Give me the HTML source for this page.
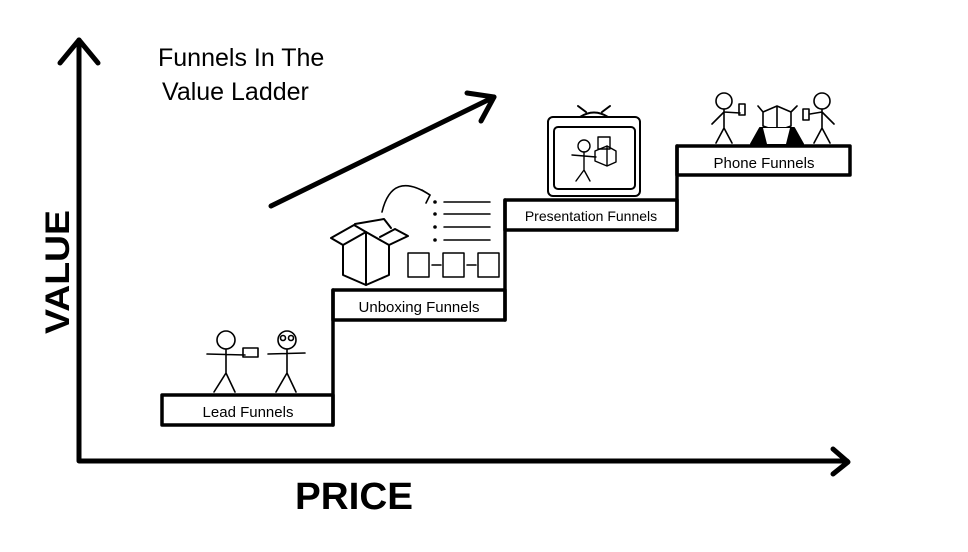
<!DOCTYPE html>
<html><head><meta charset="utf-8"><style>
html,body{margin:0;padding:0;background:#fff;}
svg{display:block;}
text{font-family:"Comic Sans MS","Liberation Sans",sans-serif;fill:#000;}
</style></head><body>
<svg width="968" height="552" viewBox="0 0 968 552" xmlns="http://www.w3.org/2000/svg">
<g stroke="#000" fill="none" stroke-linecap="round" stroke-linejoin="round">
<!-- axes -->
<path d="M79 40 L79 461 L847 461" stroke-width="5"/>
<path d="M60 63 L79 40 L98 63" stroke-width="5"/>
<path d="M833 449 L848 462 L833 474" stroke-width="5"/>
<!-- big arrow -->
<path d="M271 206 L494 97" stroke-width="5"/>
<path d="M467 93 L494 97 L481 121" stroke-width="5"/>
<!-- steps -->
<rect x="162" y="395" width="171" height="30" stroke-width="3.5"/>
<path d="M333 425 L333 290" stroke-width="3.5"/>
<rect x="333" y="290" width="172" height="30" stroke-width="3.5"/>
<path d="M505 320 L505 200" stroke-width="3.5"/>
<rect x="505" y="200" width="172" height="30" stroke-width="3.5"/>
<path d="M677 230 L677 146" stroke-width="3.5"/>
<rect x="677" y="146" width="173" height="29" stroke-width="3.5"/>
<!-- lead funnels people -->
<g stroke-width="1.6">
<circle cx="226" cy="340" r="9"/>
<path d="M226 349 L226 373 M207 354 L245 355 M226 373 L214 392 M226 373 L235 392"/>
<rect x="243" y="348" width="15" height="9"/>
<circle cx="287" cy="340" r="9"/>
<path d="M287 349 L287 373 M268 354 L305 353 M287 373 L276 392 M287 373 L296 392"/>
<circle cx="283" cy="338" r="2.5"/><circle cx="291" cy="338" r="2.5"/>
</g>
<!-- unboxing box -->
<g stroke-width="2">
<path d="M343 245 L366 232 L389 245 L389 275 L366 285 L343 275 Z"/>
<path d="M366 232 L366 285 M343 245 L331 238 L354 225 L366 232 M389 245 L408 236 L395 229 L380 237"/>
<path d="M355 224 L384 219 L391 228"/>
<path d="M382 212 Q392 170 430 195" stroke-width="1.6"/>
<path d="M422 190 L430 195 L426 203" stroke-width="1.6"/>
</g>
<g stroke-width="1.5">
<path d="M444 202 L490 202 M444 214 L490 214 M444 227 L490 227 M444 240 L490 240"/>
<rect x="408" y="253" width="21" height="24"/>
<rect x="443" y="253" width="21" height="24"/>
<rect x="478" y="253" width="21" height="24"/>
<path d="M432 265 L441 265 M467 265 L476 265"/>
</g>
<g fill="#000" stroke="none"><circle cx="435" cy="202" r="1.8"/><circle cx="435" cy="214" r="1.8"/><circle cx="435" cy="227" r="1.8"/><circle cx="435" cy="240" r="1.8"/></g>
<!-- TV -->
<g stroke-width="2">
<rect x="548" y="117" width="92" height="79" rx="5"/>
<rect x="554" y="127" width="81" height="62" rx="4"/>
<path d="M580 117 Q594 108 608 117 M586 112 L578 106 M602 112 L610 106"/>
</g>
<g stroke-width="1.4">
<circle cx="584" cy="146" r="6"/>
<path d="M584 152 L584 170 M572 155 L596 157 M584 170 L576 181 M584 170 L590 181"/>
<path d="M595 151 L607 146 L616 151 L616 162 L607 166 L595 161 Z M607 146 L607 166"/>
<rect x="598" y="137" width="12" height="12"/>
</g>
<!-- phone funnels -->
<g stroke-width="1.6">
<circle cx="724" cy="101" r="8"/>
<path d="M724 109 L724 128 M712 124 L724 112 L740 113 M724 128 L716 143 M724 128 L732 143"/>
<rect x="739" y="104" width="6" height="11"/>
<circle cx="822" cy="101" r="8"/>
<path d="M822 109 L822 128 M810 114 L822 112 L834 124 M822 128 L814 143 M822 128 L830 143"/>
<rect x="803" y="109" width="6" height="11"/>
<path d="M763 112 L777 106 L791 112 L791 126 L777 131 L763 126 Z M777 106 L777 131 M763 112 L758 106 M791 112 L797 106"/>
</g>
<path d="M751 144 L760 128 L794 128 L803 144 Z M761 144 L760 128 M793 144 L794 128" fill="#000" stroke="#000" stroke-width="2"/>
<path d="M763 128 L790 128 L786 144 L767 144 Z" fill="#fff" stroke="none"/>
</g>
<!-- labels -->
<text x="248" y="417" font-size="15" text-anchor="middle">Lead Funnels</text>
<text x="419" y="312" font-size="15" text-anchor="middle">Unboxing Funnels</text>
<text x="591" y="221" font-size="14" text-anchor="middle">Presentation Funnels</text>
<text x="764" y="168" font-size="15" text-anchor="middle">Phone Funnels</text>
<text x="158" y="66" font-size="25">Funnels In The</text>
<text x="162" y="100" font-size="25">Value Ladder</text>
<text x="354" y="509" font-size="38" text-anchor="middle" font-weight="bold" textLength="118" lengthAdjust="spacingAndGlyphs">PRICE</text>
<text transform="translate(69,272) rotate(-90)" font-size="34" font-weight="bold" text-anchor="middle" textLength="124" lengthAdjust="spacingAndGlyphs">VALUE</text>
</svg>
</body></html>
